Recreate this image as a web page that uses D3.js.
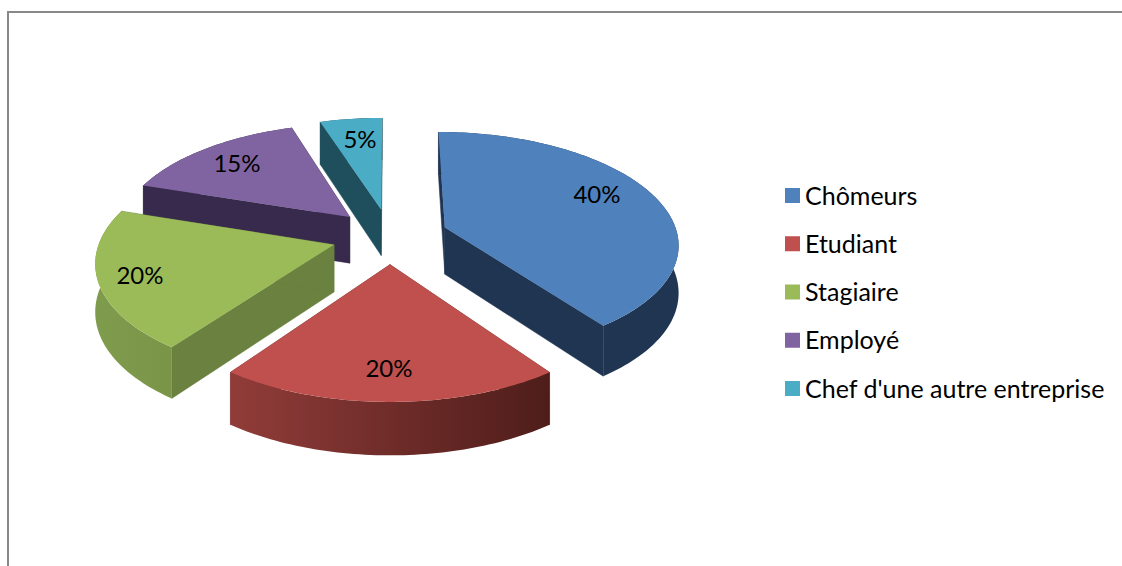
<!DOCTYPE html>
<html><head><meta charset="utf-8">
<script src="https://cdn.jsdelivr.net/npm/d3@7/dist/d3.min.js"></script>
<style>html,body{margin:0;padding:0;background:#fff;overflow:hidden}svg{display:block}text{font-family:Lato,"Noto Sans",sans-serif;fill:#000}</style>
</head><body><svg id="c" width="1122" height="566"></svg>
<script>
const categories = ["Chômeurs","Etudiant","Stagiaire","Employé","Chef d'une autre entreprise"];
const values = [40,20,20,15,5];
const topColors = ["#4f81bd","#c0504d","#9bbb59","#8064a2","#4bacc6"];
const cutColors = ["#1f3551","#6e2c2a","#6b813f","#372a4c","#1f4f5c"];
const wallStart = ["#1f3551","#913c39","#7f9b4c","#372a4c","#1f4f5c"];
const wallEnd   = ["#1f3551","#4e1d1a","#7a9548","#372a4c","#1f4f5c"];
const drawOrder = [4,3,0,2,1];
const labelSpots = [[597,203],[389,377],[140,284],[237,172],[360,148]];

const W=1122,H=566, cx=390, cy=236, R=233, K=110.5, T=0.134, D=47, EXPLODE=0.25;
const svg=d3.select("#c");
svg.append("path").attr("d","M8,566V12H1122").attr("fill","none").attr("stroke","#888").attr("stroke-width",2);

function project(u,v,z){const f=1/(1+T*v);return [cx+R*u*f, cy-K*v*f+z*D*Math.pow(f,0.7)];}
const pie=d3.pie().sort(null).value(d=>d).startAngle(0).endAngle(2*Math.PI);
const arcs=pie(values);
const line=d3.line();
const defs=svg.append("defs");

function rim(a,z){
  const mid=(a.startAngle+a.endAngle)/2, ex=EXPLODE*Math.sin(mid), ey=EXPLODE*Math.cos(mid);
  const n=Math.ceil((a.endAngle-a.startAngle)/0.02);
  return d3.range(n+1).map(i=>{const t=a.startAngle+(a.endAngle-a.startAngle)*i/n;
    return project(ex+Math.sin(t),ey+Math.cos(t),z);});
}
function apex(a,z){const mid=(a.startAngle+a.endAngle)/2;return project(EXPLODE*Math.sin(mid),EXPLODE*Math.cos(mid),z);}

const g=svg.append("g");
drawOrder.forEach(i=>{
  const a=arcs[i], top=rim(a,0), bot=rim(a,1), p0=apex(a,0), p1=apex(a,1);
  const xs=top.map(p=>p[0]);
  const grad=defs.append("linearGradient").attr("id","w"+i).attr("gradientUnits","userSpaceOnUse")
    .attr("x1",d3.min(xs)).attr("x2",d3.max(xs)).attr("y1",0).attr("y2",0);
  grad.append("stop").attr("offset",0).attr("stop-color",wallStart[i]);
  grad.append("stop").attr("offset",1).attr("stop-color",wallEnd[i]);
  const s=g.append("g").attr("class","slice");
  const closed=pts=>line(pts)+"Z";
  [[p0,top[0],bot[0],p1],[p0,top[top.length-1],bot[bot.length-1],p1]].forEach(q=>{
    s.append("path").attr("d",closed(q)).attr("fill",cutColors[i]).attr("stroke",cutColors[i]).attr("stroke-width",0.5);
  });
  s.append("path").attr("d",closed(top.concat(bot.slice().reverse()))).attr("fill",`url(#w${i})`);
  s.append("path").attr("d",closed([p0].concat(top))).attr("fill",topColors[i]);
});

svg.append("g").selectAll("text").data(arcs).join("text")
  .attr("x",(d,i)=>labelSpots[i][0]).attr("y",(d,i)=>labelSpots[i][1])
  .attr("text-anchor","middle").attr("font-size",24).text(d=>d.value+"%");

const legendY=d3.scalePoint().domain(categories).range([195.5,388.5]);
const lg=svg.append("g").selectAll("g").data(categories).join("g")
  .attr("transform",d=>`translate(785,${legendY(d)})`);
lg.append("rect").attr("x",0).attr("y",-7.5).attr("width",15).attr("height",15).attr("fill",(d,i)=>topColors[i]);
lg.append("text").attr("x",20).attr("y",9).attr("font-size",25).text(d=>d);
</script></body></html>
